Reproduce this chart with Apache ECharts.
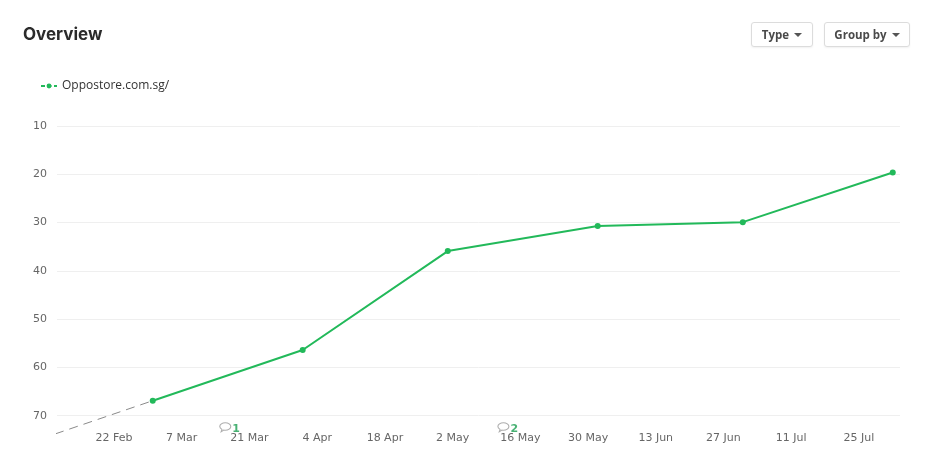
<!DOCTYPE html>
<html>
<head>
<meta charset="utf-8">
<title>Overview</title>
<script src="https://cdn.jsdelivr.net/npm/echarts@6/dist/echarts.min.js"></script>
<style>
    html, body {margin: 0; padding: 0; background: #fff;}
    #wrap {position: relative; width: 939px; height: 469px; overflow: hidden;}
    #chart {position: absolute; left: 0; top: 0; width: 939px; height: 469px;}
    .btn {
        position: absolute; top: 22px; height: 25px; box-sizing: border-box;
        border: 1px solid #dcdcdc; border-radius: 3px; background: #fff;
        box-shadow: 0 1px 2px rgba(0, 0, 0, 0.06);
        font: bold 11.5px "Open Sans", sans-serif; color: #4a4a4a;
        line-height: 24px; text-align: center;
    }
    .btn .caret {
        display: inline-block; width: 0; height: 0; margin-left: 5px; vertical-align: 2px;
        border-left: 4px solid transparent; border-right: 4px solid transparent; border-top: 4px solid #555;
    }
</style>
</head>
<body>
<div id="wrap">
    <div id="chart"></div>
    <div class="btn" style="left:751px;width:62px;">Type<span class="caret"></span></div>
    <div class="btn" style="left:824px;width:86px;">Group by<span class="caret"></span></div>
</div>
<script>
    // 数据
    var seriesName = 'Oppostore.com.sg/';
    var dates = ['2016-03-01', '2016-04-01', '2016-05-01', '2016-06-01', '2016-07-01', '2016-08-01'];
    var ranks = [66.9, 56.4, 35.9, 30.7, 29.9, 19.6];
    // 上一个点（图外，虚线）
    var prevDates = ['2016-02-01', '2016-03-01'];
    var prevRanks = [76.8, 66.9];
    // 刻度
    var yTicks = [10, 20, 30, 40, 50, 60, 70];
    var xTicks = ['2016-02-22', '2016-03-07', '2016-03-21', '2016-04-04', '2016-04-18', '2016-05-02',
        '2016-05-16', '2016-05-30', '2016-06-13', '2016-06-27', '2016-07-11', '2016-07-25'];
    // 注释标记
    var noteDates = ['2016-03-16', '2016-05-12 12:00'];
    var noteRanks = [72.4, 72.4];
    var noteLabels = ['1', '2'];

    var months = ['Jan', 'Feb', 'Mar', 'Apr', 'May', 'Jun', 'Jul', 'Aug', 'Sep', 'Oct', 'Nov', 'Dec'];
    function ts(s) {
        return +echarts.number.parseDate(s);
    }
    function pairs(xs, ys) {
        return xs.map(function (x, i) {
            return [ts(x), ys[i]];
        });
    }

    var green = '#22b95a';
    var bubble = 'path://M6,0 C9.3,0 12,1.8 12,4 C12,6.2 9.3,8 6,8 C5.4,8 4.8,7.9 4.3,7.8 L1.5,9.6 L2.4,7 C0.9,6.3 0,5.2 0,4 C0,1.8 2.7,0 6,0 Z';

    var chart = echarts.init(document.getElementById('chart'));
    var option = {
        animation: false,
        title: {
            text: 'Overview',
            left: 23,
            top: 26,
            padding: 0,
            textStyle: {fontFamily: 'Inter', fontSize: 17, fontWeight: 'bold', color: '#2b2b2b'}
        },
        legend: {
            data: [seriesName],
            left: 40,
            top: 80,
            padding: 0,
            itemWidth: 16,
            itemHeight: 6,
            itemGap: 6,
            lineStyle: {type: [4, 2.5]},
            textStyle: {fontFamily: 'Open Sans', fontSize: 12, color: '#333'}
        },
        grid: {left: 57, right: 39, top: 102, bottom: 35, containLabel: false},
        xAxis: {
            // 用数值轴存时间戳，刻度自定义
            type: 'value',
            min: ts('2016-02-10 05:00'),
            max: ts('2016-08-02 12:00'),
            axisLine: {show: false},
            axisTick: {show: false},
            splitLine: {show: false},
            axisLabel: {
                customValues: xTicks.map(ts),
                margin: -1,
                color: '#666',
                fontFamily: 'DejaVu Sans',
                fontSize: 11,
                formatter: function (v) {
                    var d = new Date(v);
                    return d.getDate() + ' ' + months[d.getMonth()];
                }
            }
        },
        yAxis: {
            type: 'value',
            inverse: true,
            min: 5,
            max: 73.8,
            axisLine: {show: false},
            axisTick: {show: false},
            splitLine: {show: false},
            axisLabel: {
                customValues: yTicks,
                margin: 10,
                color: '#666',
                fontFamily: 'DejaVu Sans',
                fontSize: 11
            }
        },
        series: [
            {
                name: 'prev',
                type: 'line',
                z: 1,
                silent: true,
                clip: true,
                symbol: 'none',
                data: pairs(prevDates, prevRanks),
                lineStyle: {color: '#8a8a8a', width: 1, type: [9, 6]},
                markLine: {
                    z: 0,
                    silent: true,
                    symbol: 'none',
                    label: {show: false},
                    lineStyle: {color: '#efefef', width: 1, type: 'solid'},
                    data: yTicks.map(function (v) {
                        return {yAxis: v};
                    })
                }
            },
            {
                name: seriesName,
                type: 'line',
                z: 3,
                symbol: 'circle',
                symbolSize: 6,
                showSymbol: true,
                data: pairs(dates, ranks),
                itemStyle: {color: green},
                lineStyle: {color: green, width: 2}
            },
            {
                name: 'notes',
                type: 'scatter',
                z: 4,
                silent: true,
                symbol: bubble,
                symbolSize: [11, 9],
                data: pairs(noteDates, noteRanks),
                itemStyle: {color: '#fff', borderColor: '#9a9a9a', borderWidth: 1},
                label: {
                    show: true,
                    position: 'right',
                    distance: 1,
                    offset: [0, 2],
                    color: '#1a9e50',
                    fontFamily: 'DejaVu Sans',
                    fontWeight: 'bold',
                    fontSize: 11,
                    formatter: function (p) {
                        return noteLabels[p.dataIndex];
                    }
                }
            }
        ]
    };
    chart.setOption(option);
</script>
</body>
</html>
